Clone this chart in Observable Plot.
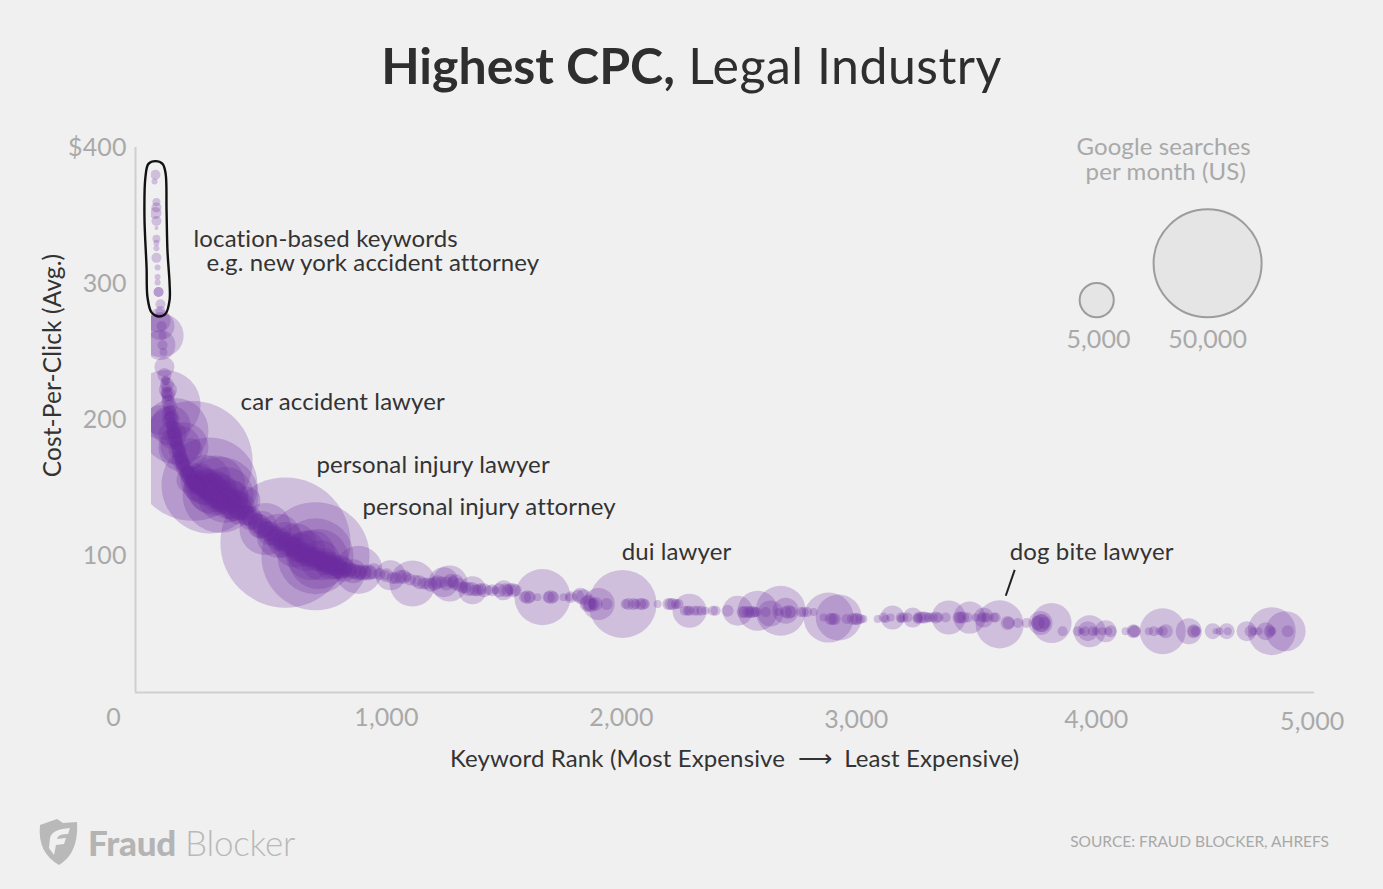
<!DOCTYPE html>
<html><head><meta charset="utf-8">
<script src="https://cdn.jsdelivr.net/npm/d3@7"></script>
<script src="https://cdn.jsdelivr.net/npm/@observablehq/plot@0.6"></script>
<style>
html,body{margin:0;padding:0;background:#f0f0f0;width:1383px;height:889px;overflow:hidden;position:relative}
body{font-family:Lato,sans-serif}
#title{height:110px;line-height:130px;text-align:center;font-size:50px;color:#2e2e2e;white-space:pre}
#title b{font-weight:700}
#title span{font-weight:400;letter-spacing:.5px}
svg{display:block;background:transparent}
svg text{letter-spacing:.12px}
#brand{position:absolute;left:88px;top:822px;font-size:35px;line-height:40px;color:#b9b9b9;letter-spacing:-.2px}
#brand b{font-weight:900;color:#b4b4b4}
#brand span{font-weight:300}
#source{position:absolute;right:54px;top:831px;font-size:15.5px;line-height:20px;color:#a8a8a8}
#logo{position:absolute;left:37px;top:818px}
</style></head><body>
<div id="title"><b>Highest CPC,</b><span> Legal Industry</span></div>
<div id="chart"></div>
<svg id="logo" width="42" height="48" viewBox="0 0 42 48"><path fill="#b9b9b9" d="M3 7 L20 1 L26 5 L40 4 C41 22 37 38 22 47 C8 39 1 26 3 7 Z"/><path fill="#f0f0f0" d="M13 20 C15 13 22 11 33 10 L31 16 C25 16 21 17 20 21 L29 20 L27 26 L19 27 L17 37 L12 30 Z"/></svg>
<div id="brand"><b>Fraud</b> <span>Blocker</span></div>
<div id="source">SOURCE: FRAUD BLOCKER, AHREFS</div>
<script>
const ranks = [
 17,13,21,21,17,21,21,21,21,21,21,26,26,26,30,30,38,
 43,38,30,38,38,43,47,47,51,55,55,60,
 60,64,68,72,77,81,89,94,102,111,119,128,140,153,166,179,196,209,
 64,70,75,85,98,108,115,125,135,148,160,172,185,
 60,102,175,81,123,38,89,166,136,
 247,294,272,315,230,251,285,328,209,260,302,358,358,379,
 200,215,225,236,247,255,268,280,290,300,315,330,345,365,
 210,225,240,255,270,285,300,320,340,360,
 400,421,443,464,485,507,528,549,570,592,613,634,656,677,698,719,741,762,783,805,826,847,868,890,911,932,
 570,698,698,711,677,656,634,613,485,541,570,473,719,762,741,805,881,
 945,996,1026,1060,1086,1111,1017,1124,1158,1188,1217,1243,1269,1273,1294,1324,1349,1379,1401,1366,1435,1464,1507,1528,1550,1498,
 1601,1643,1699,1754,1784,1826,1856,1882,1937,2018,2052,2090,2154,2209,2243,2282,2324,2358,2401,2452,2516,2550,2567,2614,2669,2712,2776,2818,2861,2899,2959,2997,3018,3091,3125,3189,3261,
 1664,2005,1903,2290,2495,2580,2678,2635,2699,2882,2925,3154,3240,
 3116,3146,3189,3218,3261,3282,3303,3338,3380,3444,3474,3508,3546,3593,
 3644,3687,3725,3772,3784,
 3942,3972,4006,4048,4082,4180,4266,4304,4436,4546,4581,4678,4712,4759,4836,4529,
 3393,3482,3542,3610,3648,3831,3784,3878,3993,4061,3985,4180,4146,4304,4415,4436,4317,4517,4576,4661,4768,4827,4742
];
const cpcs = [
 380,375,360,356,352,346,341,333,330,326,319,312,305,301,294,294,285,
 262,269,273,255,280,269,262,255,250,239,233,229,
 229,223,218,213,207,201,196,191,185,180,175,170,166,161,159,155,152,150,
 220,215,205,198,188,182,178,172,168,163,160,157,154,
 211,192,170,196,181,200,189,178,180,
 152,145,152,145,156,148,147,142,157,150,145,137,141,135,
 154,152,150,149,147,146,143,142,140,138,136,134,132,130,
 158,156,155,152,150,148,146,143,141,138,
 132,128,126,122,120,117,114,112,110,108,106,103,101,100,98,97,95,94,92,91,90,90,89,88,88,88,
 110,100,100,98,101,104,106,108,120,115,112,123,97,93,97,92,90,
 89,86,84,85,85,80,86,82,80,79,81,81,80,82,81,77,76,75,76,75,75,75,75,76,75,75,
 70,70,70,70,70,71,65,65,65,65,65,65,65,65,65,60,60,60,60,60,59,59,59,59,59,59,59,59,55,54,54,54,54,54,54,54,54,
 70,65,65,60,60,60,60,58,60,55,55,55,55,
 55,55,55,55,55,55,55,55,55,55,55,55,55,55,
 51,51,51,51,51,
 45,45,45,45,45,45,45,45,45,45,45,45,45,45,45,45,
 55,55,55,50,51,51,51,45,45,45,45,45,45,45,45,45,45,45,45,45,45,45,45
];
const searches = [
 429,154,274,429,617,429,69,274,154,154,429,154,154,154,429,429,429,
 8300,3360,2470,3860,429,429,274,429,274,1715,840,274,
 429,429,617,840,617,840,617,840,840,617,840,840,617,840,840,617,840,840,
 617,617,840,617,840,617,840,617,840,617,840,617,840,
 21000,18680,61700,6860,6860,3860,3360,2470,10720,
 39500,24770,15430,13450,10720,8300,6860,6860,3860,3860,3860,3860,2470,2470,
 1715,1715,1715,1715,1715,1715,1715,1715,1390,1390,1390,1390,1390,1390,
 2470,2470,2470,2470,2470,2470,2470,1715,1715,1715,
 1097,1097,1097,1097,1097,1097,1097,1097,1097,1097,1097,1097,1097,1097,1097,1097,1097,1097,1097,840,840,840,840,840,840,840,
 72500,50000,24770,15430,10720,6860,3860,8300,11590,8300,5560,3360,6860,3360,2470,2470,9880,
 1097,429,617,840,429,9070,3860,617,617,840,840,3860,5560,840,1097,617,840,617,617,3360,429,274,840,617,617,1715,
 840,274,840,274,617,1097,1097,617,617,429,617,617,274,617,429,429,429,274,429,617,617,617,429,429,274,840,429,274,274,617,429,617,429,274,274,274,429,
 13450,19830,4390,4960,3860,6860,10720,2900,2900,10720,9070,2470,1715,
 429,274,429,429,429,617,429,617,429,617,429,274,429,429,
 840,429,429,840,1390,
 429,429,429,274,617,617,429,429,617,274,274,617,274,617,617,154,
 4960,4390,1715,9880,617,6860,2470,429,4390,2075,1715,840,274,9070,2900,840,840,1097,1097,1715,9880,6860,1390
];
const trailRanks = [
 66,72,79,86,92,100,106,113,122,130,138,146,156,168,176,186,198,204,
 70,82,96,110,124,140,156,172,190,
 166,196,226,251,277,302,328,353,379,404,
 175,205,235,262,290,318,345,372,400,
 410,432,454,475,497,518,540,560,582,602,624,645,667,688,709,730,752,773,794,816,836,858,880,900,922,
 420,460,500,540,580,620,660,700,740,780,820,860,
 970,1000,1040,1075,1100,1140,1170,1205,1235,1255,1285,1310,1335,1365,1390,1415,1450,1480,1515,1540,
 1840,1860,1870,1890,1815,
 1590,1610,1690,1710,1780,
 2030,2060,2080,2100,2200,2220,2232,2270,2290,2310,2340,2390,
 2525,2540,2560,2575,2700,2722,2765,2790,2890,2908,2985,3005,3030,
 3200,3272,3292,3312,3325,3350,3435,3455,3535,3556,3585,
 3790,3800,3960,4020,4072,4185,4245,4290,4445,4690,4770
];
const trailCpcs = [
 226,219,210,203,194,190,183,178,173,168,165,162,158,156,154,153,151,149,
 222,200,187,178,170,165,160,156,152,
 156,151,148,152,145,149,141,145,137,141,
 162,156,152,148,144,142,139,135,130,
 130,127,124,121,118,115,113,111,109,107,104,102,100,99,97,96,94,93,91,90,90,89,88,88,88,
 128,122,117,113,109,105,101,98,95,92,90,89,
 87,86,84,85,83,81,80,80,81,80,81,79,77,76,75,75,75,75,75,75,
 70,66,64,65,71,
 70,70,70,70,70,
 65,65,65,65,65,65,65,60,60,60,60,60,
 59,59,59,59,59,59,59,59,54,54,54,54,54,
 55,55,55,55,55,55,55,55,55,55,55,
 51,51,45,45,45,45,45,45,45,45,45
];
const trailSearches = [
 840,840,840,840,840,840,840,840,840,840,840,840,840,840,840,840,840,840,
 1390,1390,1390,1390,1390,1390,1390,1390,1390,
 3360,3360,3360,3360,3360,3360,3360,3360,3360,3360,
 1715,1715,1715,1715,1715,1715,1715,1715,1715,
 1715,1715,1715,1715,1715,1715,1715,1715,1715,1715,1715,1715,1715,1715,1715,1715,1715,1715,1715,1097,1097,1097,1097,1097,1097,
 2470,2470,2470,2470,2470,2470,2470,2470,2470,2470,2470,2470,
 617,840,617,840,617,840,617,840,617,840,617,840,617,840,617,840,617,840,617,840,
 1097,1097,840,840,617,
 617,617,617,617,274,
 617,429,617,429,617,617,429,429,429,429,429,429,
 617,617,617,429,617,617,429,429,617,617,617,617,274,
 429,617,617,429,429,429,617,617,429,429,429,
 1390,617,154,274,274,617,274,274,429,274,274
];
const loopRanks = [17,47,60,64,68,77,77,60,30,0,-17,-21,-30,-26,-13];
const loopCpcs  = [390,388,381,354,324,300,288,278,276,279,290,312,349,378,388];
const xTicks = [0,1000,2000,3000,4000,5000];
const yTicks = [100,200,300,400];
const legendSizes = [5000,50000];
const legendRanks = [4023,4495];
const legendCpcs = [288,315];
const notes = [
 {t:"location-based keywords",x:179,y:332.5},
 {t:"e.g. new york accident attorney",x:234,y:315},
 {t:"car accident lawyer",x:379,y:213},
 {t:"personal injury lawyer",x:702,y:167},
 {t:"personal injury attorney",x:898,y:136},
 {t:"dui lawyer",x:2001,y:103},
 {t:"dog bite lawyer",x:3653,y:103}
];
const bubbles = ranks.map((r,i)=>({rank:r,cpc:cpcs[i],vol:searches[i]}))
  .concat(trailRanks.map((r,i)=>({rank:r,cpc:trailCpcs[i],vol:trailSearches[i]})));
const F = "Lato, sans-serif";
const GREY = "#a9a9a9", INK = "#333333";
const tickShift = {0:[-38,-0],1000:[0,0],2000:[0,0],3000:[0,2],4000:[5,2],5000:[-14,4]};
const plot = Plot.plot({
  width:1383, height:680,
  marginLeft:151, marginRight:69, marginTop:37, marginBottom:98,
  x:{domain:[0,4950],axis:null},
  y:{domain:[0,400],axis:null},
  r:{type:"sqrt",domain:[0,50000],range:[0,54]},
  style:{background:"transparent",overflow:"visible"},
  marks:[
    Plot.dot(bubbles,{x:"rank",y:"cpc",r:"vol",fill:"#6a2ca0",fillOpacity:.25,clip:"frame"}),
    Plot.ruleX([-68],{y1:0,y2:400,stroke:"#cfcfcf",strokeWidth:2}),
    Plot.ruleY([0],{x1:-68,x2:4950,stroke:"#cfcfcf",strokeWidth:2}),
    Plot.line(loopRanks.map((r,i)=>({r,c:loopCpcs[i]})),{x:"r",y:"c",curve:"catmull-rom-closed",stroke:"#111",strokeWidth:2.4}),
    Plot.link([0],{x1:()=>3674,y1:()=>90,x2:()=>3636,y2:()=>71,stroke:"#222",strokeWidth:2}),
    Plot.dot(legendSizes,{x:(d,i)=>legendRanks[i],y:(d,i)=>legendCpcs[i],r:d=>d,fill:"#e5e5e5",stroke:"#9c9c9c",strokeWidth:2}),
    Plot.text(notes,{x:"x",y:"y",text:"t",textAnchor:"start",fontSize:24,fontFamily:F,fill:INK}),
    Plot.text(yTicks,{x:()=>-106,y:d=>d,text:d=>d===400?"$400":String(d),textAnchor:"end",fontSize:25,fontFamily:F,fill:GREY}),
    ...xTicks.map(t=>Plot.text([t],{x:d=>d,y:()=>-19,text:d=>d3.format(",")(d),dx:tickShift[t][0],dy:tickShift[t][1],fontSize:25,fontFamily:F,fill:GREY})),
    Plot.text(["Cost-Per-Click (Avg.)"],{x:()=>-417,y:()=>240,text:d=>d,rotate:-90,fontSize:24.5,fontFamily:F,fill:INK}),
    Plot.text(["Keyword Rank (Most Expensive  ⟶  Least Expensive)"],{x:()=>2482,y:()=>-49,text:d=>d,fontSize:24,fontFamily:F,fill:INK}),
    Plot.text(["Google searches"],{x:()=>4308,y:()=>400,text:d=>d,fontSize:24,fontFamily:F,fill:GREY}),
    Plot.text(["per month (US)"],{x:()=>4317,y:()=>382,text:d=>d,fontSize:24,fontFamily:F,fill:GREY}),
    Plot.text(legendSizes,{x:d=>d===5000?4031:4495,y:()=>259,text:d=>d3.format(",")(d),fontSize:25,fontFamily:F,fill:GREY})
  ]
});
document.getElementById("chart").appendChild(plot);
</script>
</body></html>
